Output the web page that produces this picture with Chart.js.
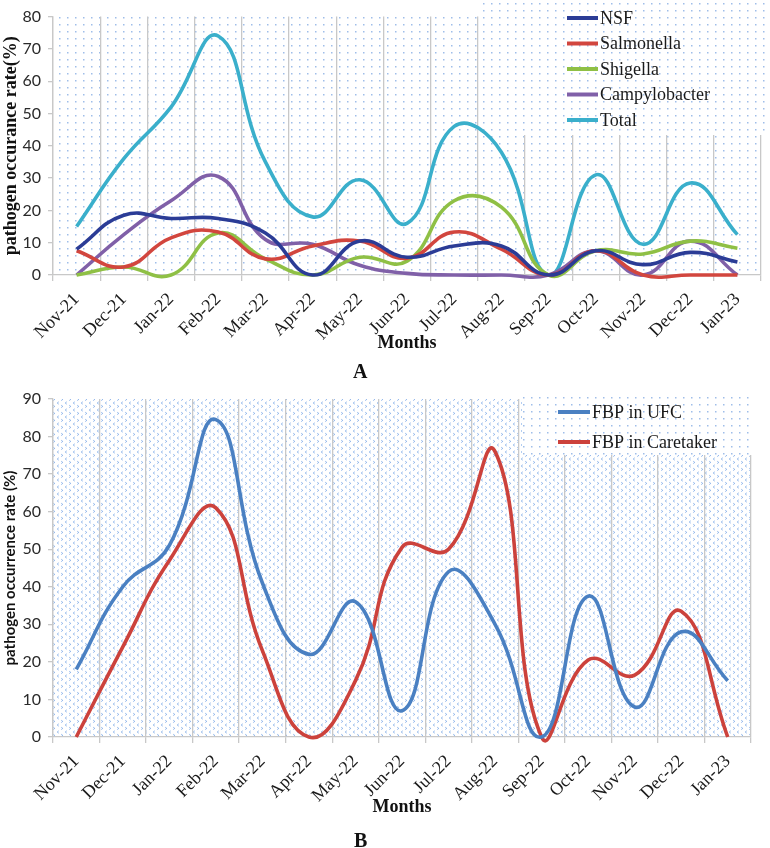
<!DOCTYPE html>
<html><head><meta charset="utf-8">
<script src="https://cdn.jsdelivr.net/npm/chart.js@4.4.0/dist/chart.umd.min.js"></script>
<style>
html,body{margin:0;padding:0;background:#fff;}
#wrap{position:relative;width:770px;height:848px;overflow:hidden;}
#cA{position:absolute;left:0;top:0;}
#cB{position:absolute;left:0;top:380px;}
.lbl{position:absolute;font:bold 20px "Liberation Serif","Times New Roman",serif;color:#111;line-height:20px;}
</style></head><body>
<div id="wrap">
<canvas id="cA" width="770" height="380"></canvas>
<canvas id="cB" width="770" height="468"></canvas>
<div class="lbl" style="left:353px;top:361px">A</div>
<div class="lbl" style="left:354px;top:830px">B</div>
</div>
<script>
// ---- data ----
const months = ['Nov-21','Dec-21','Jan-22','Feb-22','Mar-22','Apr-22','May-22','Jun-22','Jul-22','Aug-22','Sep-22','Oct-22','Nov-22','Dec-22','Jan-23'];
const nsf           = [8, 18.5, 17.5, 17.5, 13, 0, 10.5, 5.5, 9, 9, 0, 7.5, 3.2, 7, 4];
const salmonella    = [7.5, 2.5, 11.5, 13.3, 5, 9, 10.5, 5.2, 13.3, 8, 0, 7.5, 0, 0, 0];
const shigella      = [0, 2.5, 0, 13, 5, 0, 5.5, 4.3, 23, 21, 0, 7.5, 6.5, 10.5, 8.3];
const campylobacter = [0, 12.5, 23, 30.5, 11, 9.5, 3, 0.5, 0, 0, 0, 7.5, 0, 10.5, 0];
const total         = [15, 36, 52, 74, 35, 18, 29.5, 16, 46, 38, 0, 31, 9.5, 28.5, 12.5];
const fbpUFC        = [18, 40, 51, 84.5, 41, 22, 36, 7, 44, 30, 0, 37.5, 8, 28, 15];
const fbpCaretaker  = [0, 24, 47, 61, 23, 0, 15, 50.5, 50, 76, 0, 20.5, 16.5, 33.5, 0];
const yTicksA = [0,10,20,30,40,50,60,70,80];
const yTicksB = [0,10,20,30,40,50,60,70,80,90];

const GRID = '#c8c8c8';
const TICKFONT = {family:'Lato, "Open Sans", sans-serif', size:16};
const MONTHFONT = {family:'"Liberation Serif","Times New Roman",serif', size:18};

function dotPattern(ctx){
  const c=document.createElement('canvas'); c.width=8; c.height=7;
  const x=c.getContext('2d');
  x.fillStyle='rgba(100,150,220,0.62)';
  x.fillRect(3,3,1.5,1.5);
  return ctx.createPattern(c,'repeat');
}
function chevPattern(ctx){
  const c=document.createElement('canvas'); c.width=8; c.height=7;
  const x=c.getContext('2d');
  x.strokeStyle='rgba(95,150,225,0.72)'; x.lineWidth=0.9;
  x.beginPath(); x.moveTo(2.8,0.8); x.lineTo(1.2,2); x.lineTo(2.8,3.2); x.stroke();
  x.beginPath(); x.moveTo(5.2,4.2); x.lineTo(6.8,5.4); x.lineTo(5.2,6.6); x.stroke();
  return ctx.createPattern(c,'repeat');
}

const bgPlugin = {
  id:'bgPattern',
  beforeDraw(chart, args, opts){
    const {ctx, chartArea:a} = chart;
    ctx.save();
    ctx.fillStyle = opts.kind==='chev' ? chevPattern(ctx) : dotPattern(ctx);
    ctx.fillRect(a.left, a.top, a.right-a.left, a.bottom-a.top);
    ctx.restore();
  }
};
const boxLegend = {
  id:'boxLegend',
  beforeDatasetsDraw(chart, args, o){
    const ctx = chart.ctx;
    ctx.save();
    ctx.fillStyle='#fff'; ctx.fillRect(o.x,o.y,o.w,o.h);
    ctx.fillStyle=dotPattern(ctx); ctx.fillRect(o.x,o.y,o.w,o.h);
    chart.data.datasets.forEach((ds,i)=>{
      const y = o.y0 + i*o.dy;
      ctx.strokeStyle = ds.borderColor; ctx.lineWidth = 4; ctx.lineCap='butt';
      ctx.beginPath(); ctx.moveTo(o.lx, y); ctx.lineTo(o.lx+o.lw, y); ctx.stroke();
      ctx.fillStyle='#1a1a1a'; ctx.font=o.font; ctx.textBaseline='middle'; ctx.textAlign='left';
      ctx.fillText(ds.label, o.lx+o.lw+2, y+1);
    });
    ctx.restore();
  }
};

function ds(label, data, color){
  return {label, data, borderColor:color, backgroundColor:color, borderWidth:3.6,
          pointRadius:0, tension:0.45, capBezierPoints:false, fill:false, clip:12};
}

function makeOptions(cfg){
  return {
    responsive:false, animation:false, events:[],
    layout:{padding:{top:cfg.padTop, right:cfg.padRight, left:0, bottom:0}},
    plugins:{legend:{display:false}, tooltip:{enabled:false},
      bgPattern:{kind:cfg.kind}, boxLegend:cfg.legend},
    scales:{
      x:{
        type:'category', offset:true,
        grid:{offset:true, color:GRID, lineWidth:1.3, drawTicks:true, tickLength:6, tickColor:GRID},
        border:{color:GRID, width:1.3},
        ticks:{font:MONTHFONT, color:'#1a1a1a', maxRotation:45, minRotation:45, autoSkip:false, padding:8},
        title:{display:true, text:'Months', color:'#111',
          font:{family:'"Liberation Serif","Times New Roman",serif', size:18, weight:'bold'},
          padding:{top:0,bottom:cfg.monthsPad}},
        afterFit(s){ s.height = cfg.xH; }
      },
      y:{
        min:0, max:cfg.max,
        afterBuildTicks(s){ s.ticks = cfg.yTicks.map(v=>({value:v})); },
        grid:{drawOnChartArea:false, drawTicks:true, tickLength:5, color:GRID, lineWidth:1.3},
        border:{color:GRID, width:1.3},
        ticks:{font:TICKFONT, color:'#2a2a2a', padding:7},
        title:{display:true, text:cfg.yTitle, color:'#111', font:cfg.yTitleFont, padding:{top:1,bottom:0}},
        afterFit(s){ s.width = 53; }
      }
    }
  };
}

new Chart(document.getElementById('cA'), {
  type:'line',
  data:{labels:months, datasets:[
    ds('NSF', nsf, '#2b3c96'),
    ds('Salmonella', salmonella, '#d2463e'),
    ds('Shigella', shigella, '#8fc045'),
    ds('Campylobacter', campylobacter, '#8060a8'),
    ds('Total', total, '#3aafcb')
  ]},
  options: makeOptions({padTop:8, padRight:9, kind:'dots', max:80, yTicks:yTicksA, xH:105, monthsPad:26,
    yTitle:'pathogen occurance rate(%)',
    yTitleFont:{family:'"Liberation Serif","Times New Roman",serif', size:18, weight:'bold'},
    legend:{x:480, y:0, w:288, h:135, lx:567, lw:31, y0:18, dy:25.5,
      font:'18px "Liberation Serif","Times New Roman",serif'}}),
  plugins:[bgPlugin, boxLegend]
});

new Chart(document.getElementById('cB'), {
  type:'line',
  data:{labels:months, datasets:[
    ds('FBP in UFC', fbpUFC, '#4a80c2'),
    ds('FBP in Caretaker', fbpCaretaker, '#cc423c')
  ]},
  options: makeOptions({padTop:19, padRight:19, kind:'chev', max:90, yTicks:yTicksB, xH:111, monthsPad:30,
    yTitle:'pathogen occurrence rate (%)',
    yTitleFont:{family:'Lato, "Open Sans", sans-serif', size:15, weight:'bold'},
    legend:{x:522, y:15, w:230, h:60, lx:558, lw:32, y0:32, dy:30,
      font:'18px "Liberation Serif","Times New Roman",serif'}}),
  plugins:[bgPlugin, boxLegend]
});
</script>
</body></html>
